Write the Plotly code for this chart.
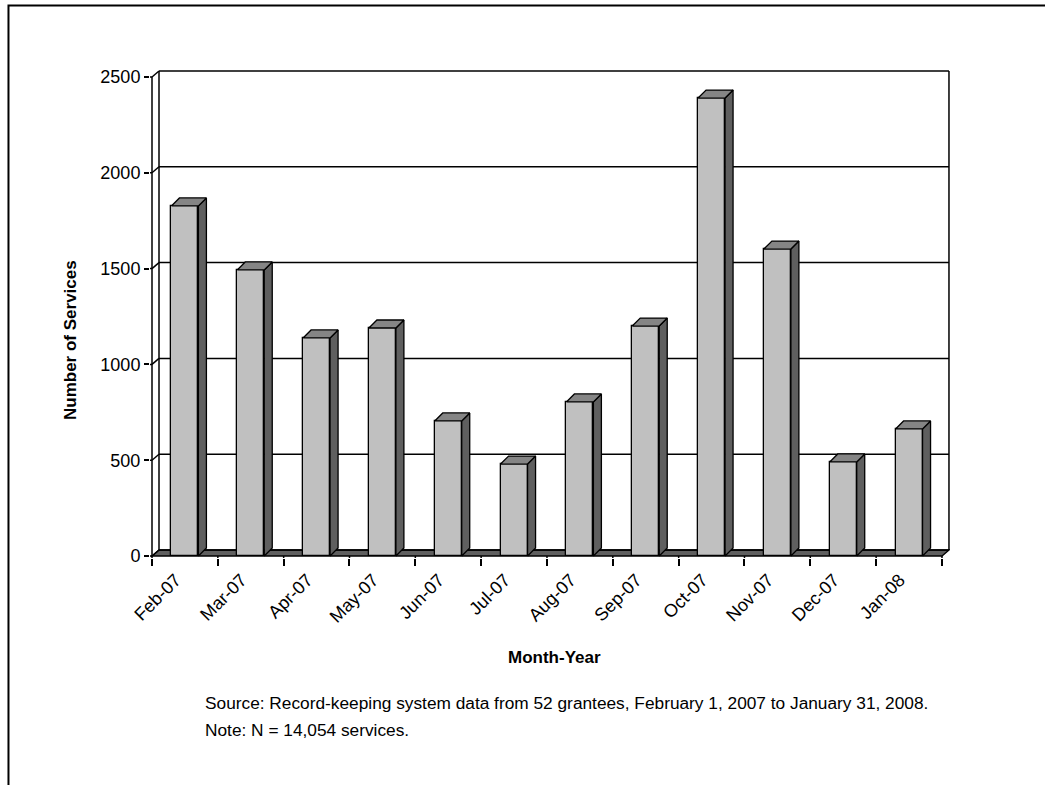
import plotly.graph_objects as go

# Monthly service counts, February 2007 - January 2008
months = ["Feb-07", "Mar-07", "Apr-07", "May-07", "Jun-07", "Jul-07",
          "Aug-07", "Sep-07", "Oct-07", "Nov-07", "Dec-07", "Jan-08"]
services = [1827, 1493, 1138, 1190, 705, 480, 804, 1200, 2390, 1602, 491, 663]
value_ticks = [0, 500, 1000, 1500, 2000, 2500]

FONT = "Liberation Sans, Arial, sans-serif"

# pseudo-3D geometry (category units on x, value units on y)
BAR_W = 0.41
BAR_DX, BAR_DY = 0.1215, 41.75     # bar depth offset
WALL_DX, WALL_DY = 0.1063, 31.3    # floor / back wall depth offset
LABEL_SHIFT = 0.14                 # rotated month labels sit left of centre
X_LO, X_HI = -0.0304, 12.122
Y_LO, Y_HI = -10.44, 2573

FRONT = "#C0C0C0"
SIDE = "#5F5F5F"
TOP = "#858585"
EDGE = dict(color="black", width=1.3)

n = len(months)
centers = [i + 0.5 for i in range(n)]
top_val = value_ticks[-1]

fig = go.Figure()

# side faces and top faces of the columns
side_x, side_y, top_x, top_y = [], [], [], []
for c, v in zip(centers, services):
    xl, xr = c - BAR_W / 2, c + BAR_W / 2
    side_x += [xr, xr + BAR_DX, xr + BAR_DX, xr, xr, None]
    side_y += [0, BAR_DY, v + BAR_DY, v, 0, None]
    top_x += [xl, xl + BAR_DX, xr + BAR_DX, xr, xl, None]
    top_y += [v, v + BAR_DY, v + BAR_DY, v, v, None]

fig.add_trace(go.Bar(
    x=centers, y=services, width=BAR_W,
    marker=dict(color=FRONT, line=EDGE),
    hovertext=months, showlegend=False,
))
fig.add_trace(go.Scatter(
    x=side_x, y=side_y, mode="lines", fill="toself", fillcolor=SIDE,
    line=EDGE, hoverinfo="skip", showlegend=False,
))
fig.add_trace(go.Scatter(
    x=top_x, y=top_y, mode="lines", fill="toself", fillcolor=TOP,
    line=EDGE, hoverinfo="skip", showlegend=False,
))

shapes = []
line_style = dict(color="black", width=1.5)

# floor slab
shapes.append(dict(
    type="path", layer="below",
    path=(f"M 0 0 L {n} 0 L {n + WALL_DX} {WALL_DY} "
          f"L {WALL_DX} {WALL_DY} Z"),
    fillcolor=SIDE, line=dict(color="black", width=1.3),
))
# back wall gridlines, side-wall diagonals and tick stubs
for v in value_ticks:
    shapes.append(dict(type="line", layer="below", x0=WALL_DX, x1=n + WALL_DX,
                       y0=v + WALL_DY, y1=v + WALL_DY, line=line_style))
    shapes.append(dict(type="line", layer="below", x0=0, x1=WALL_DX,
                       y0=v, y1=v + WALL_DY, line=line_style))
    shapes.append(dict(type="line", layer="below", x0=X_LO, x1=0,
                       y0=v, y1=v, line=line_style))
# wall edges
shapes.append(dict(type="line", layer="below", x0=0, x1=0,
                   y0=0, y1=top_val, line=line_style))
shapes.append(dict(type="line", layer="below", x0=WALL_DX, x1=WALL_DX,
                   y0=WALL_DY, y1=top_val + WALL_DY, line=line_style))
shapes.append(dict(type="line", layer="below", x0=n + WALL_DX, x1=n + WALL_DX,
                   y0=WALL_DY, y1=top_val + WALL_DY, line=line_style))
# category boundary stubs down to the axis edge
for k in range(n + 1):
    shapes.append(dict(type="line", layer="below", x0=k, x1=k,
                       y0=0, y1=Y_LO, line=line_style))

# outer frame (left and top edges of the page box)
shapes.append(dict(
    type="path", xref="paper", yref="paper",
    path="M -0.1769 -0.47 L -0.1769 1.1162 L 1.13 1.1162",
    line=dict(color="black", width=2),
))

fig.update_layout(
    width=1045, height=785,
    margin=dict(l=150, r=95, t=63, b=227),
    paper_bgcolor="white", plot_bgcolor="white",
    font=dict(family=FONT, size=17.3, color="black"),
    shapes=shapes,
    bargap=0,
    xaxis=dict(
        range=[X_LO, X_HI], showgrid=False, zeroline=False, showline=False,
        tickmode="array", tickvals=[c - LABEL_SHIFT for c in centers],
        ticktext=months, ticks="", tickangle=-45, tickfont=dict(size=18),
        ticklabelstandoff=7,
        minor=dict(tickmode="array", tickvals=list(range(n + 1)),
                   ticks="outside", ticklen=7, tickwidth=1.5,
                   tickcolor="black", showgrid=False),
    ),
    yaxis=dict(
        range=[Y_LO, Y_HI], showgrid=False, zeroline=False, showline=False,
        tickmode="array", tickvals=value_ticks,
        ticks="outside", ticklen=5, tickwidth=1.5, tickcolor="black",
        tickfont=dict(size=18),
    ),
    annotations=[
        dict(text="<b>Number of Services</b>", xref="paper", yref="paper",
             x=-0.1, y=0.4404, textangle=-90, showarrow=False,
             xanchor="center", yanchor="middle", font=dict(size=17)),
        dict(text="<b>Month-Year</b>", xref="paper", yref="paper",
             x=0.505, y=-0.2, showarrow=False,
             xanchor="center", yanchor="middle", font=dict(size=17)),
        dict(text="Source: Record-keeping system data from 52 grantees, "
                  "February 1, 2007 to January 31, 2008.",
             xref="paper", yref="paper", x=0.06625, y=-0.293,
             showarrow=False, xanchor="left", yanchor="middle",
             font=dict(size=17.3)),
        dict(text="Note: N = 14,054 services.",
             xref="paper", yref="paper", x=0.06625, y=-0.3475,
             showarrow=False, xanchor="left", yanchor="middle",
             font=dict(size=17.3)),
    ],
)

fig.write_html("out.html")
